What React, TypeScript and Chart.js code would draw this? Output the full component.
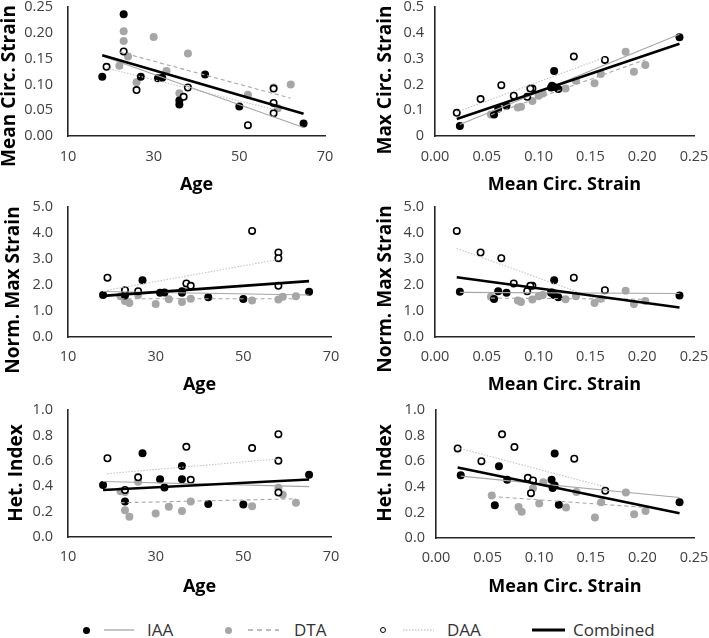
import React, { useEffect, useRef } from 'react';
import { Chart, registerables } from 'chart.js';

Chart.register(...registerables);

// ---------- data ----------
// IAA group
const iaaAge = [18, 23, 27, 31, 32, 36, 36, 42, 50, 65];
const iaaMeanStrain = [0.115, 0.236, 0.115, 0.112, 0.113, 0.061, 0.069, 0.119, 0.057, 0.024];
const iaaMaxStrain = [0.19, 0.383, 0.252, 0.188, 0.195, 0.106, 0.117, 0.182, 0.083, 0.039];
const iaaNormMaxStrain = [1.62, 1.6, 2.18, 1.7, 1.71, 1.76, 1.7, 1.53, 1.46, 1.74];
const iaaHetIndex = [0.41, 0.28, 0.66, 0.455, 0.39, 0.56, 0.455, 0.26, 0.255, 0.49];

// DTA group
const dtaAge = [22, 23, 23, 24, 26, 30, 33, 36, 38, 52, 58, 59, 62];
const dtaMeanStrain = [0.136, 0.184, 0.203, 0.154, 0.104, 0.192, 0.126, 0.083, 0.16, 0.08, 0.094, 0.054, 0.1];
const dtaMaxStrain = [0.214, 0.327, 0.275, 0.204, 0.165, 0.249, 0.184, 0.113, 0.24, 0.11, 0.136, 0.083, 0.156];
const dtaNormMaxStrain = [1.57, 1.78, 1.38, 1.31, 1.62, 1.27, 1.45, 1.35, 1.47, 1.4, 1.44, 1.55, 1.57];
const dtaHetIndex = [0.36, 0.355, 0.21, 0.16, 0.435, 0.185, 0.238, 0.205, 0.28, 0.243, 0.388, 0.333, 0.27];

// DAA group
const daaAge = [19, 23, 26, 37, 38, 52, 58, 58, 58];
const daaMeanStrain = [0.134, 0.164, 0.089, 0.076, 0.094, 0.021, 0.044, 0.064, 0.092];
const daaMaxStrain = [0.308, 0.295, 0.152, 0.156, 0.184, 0.09, 0.143, 0.197, 0.184];
const daaNormMaxStrain = [2.28, 1.8, 1.76, 2.06, 1.97, 4.08, 3.25, 3.03, 1.97];
const daaHetIndex = [0.62, 0.37, 0.47, 0.71, 0.45, 0.7, 0.6, 0.81, 0.35];

// tick labels
const ageTicks = ['10', '30', '50', '70'];
const meanStrainTicks = ['0.00', '0.05', '0.10', '0.15', '0.20', '0.25'];
const maxStrainTicks = ['0', '0.1', '0.2', '0.3', '0.4', '0.5'];
const normStrainTicks = ['0.0', '1.0', '2.0', '3.0', '4.0', '5.0'];
const hetTicks = ['0.0', '0.2', '0.4', '0.6', '0.8', '1.0'];

const legendLabels = ['IAA', 'DTA', 'DAA', 'Combined'];

// ---------- styling ----------
const FONT = '"Open Sans", "DejaVu Sans", sans-serif';
const TICK_COLOR = '#404040';
const AXIS_COLOR = '#262626';
const GRAY = '#a6a6a6';
const LIGHT_GRAY = '#c4c4c4';

function trendEnds(xs: number[], ys: number[]) {
  const n = xs.length;
  const mx = xs.reduce((a, b) => a + b, 0) / n;
  const my = ys.reduce((a, b) => a + b, 0) / n;
  let sxy = 0;
  let sxx = 0;
  for (let i = 0; i < n; i++) {
    sxy += (xs[i] - mx) * (ys[i] - my);
    sxx += (xs[i] - mx) * (xs[i] - mx);
  }
  const b = sxy / sxx;
  const a = my - b * mx;
  const x0 = Math.min(...xs);
  const x1 = Math.max(...xs);
  return [
    { x: x0, y: a + b * x0 },
    { x: x1, y: a + b * x1 },
  ];
}

function pts(xs: number[], ys: number[]) {
  return xs.map((x, i) => ({ x, y: ys[i] }));
}

const yTitlePlugin = {
  id: 'yTitleCustom',
  afterDraw(chart: any, _args: any, opts: any) {
    const { ctx } = chart;
    ctx.save();
    ctx.translate(opts.x, opts.y);
    ctx.rotate(-Math.PI / 2);
    ctx.font = `bold ${opts.size}px ${FONT}`;
    ctx.fillStyle = '#000000';
    ctx.textAlign = 'center';
    ctx.textBaseline = 'middle';
    ctx.fillText(opts.text, 0, 0);
    ctx.restore();
  },
};

type Spec = {
  xs: number[][];
  ys: number[][];
  xMin: number; xMax: number; xStep: number; xLabels: string[];
  yMin: number; yMax: number; yStep: number; yLabels: string[];
  xTitle: string; yTitle: string;
  left: number; top: number; w: number; h: number;
  area: { l: number; r: number; t: number; b: number };
  yPad: number; xPad: number; xTitlePad: number;
  yTitleAt: { x: number; y: number };
};

const panels: Spec[] = [
  {
    xs: [iaaAge, dtaAge, daaAge], ys: [iaaMeanStrain, dtaMeanStrain, daaMeanStrain],
    xMin: 10, xMax: 70, xStep: 20, xLabels: ageTicks,
    yMin: 0, yMax: 0.25, yStep: 0.05, yLabels: meanStrainTicks,
    xTitle: 'Age', yTitle: 'Mean Circ. Strain',
    left: 0, top: 0, w: 354, h: 200,
    area: { l: 68, r: 325, t: 7, b: 136 }, yPad: 15, xPad: 14, xTitlePad: 6,
    yTitleAt: { x: 10, y: 86 },
  },
  {
    xs: [iaaMeanStrain, dtaMeanStrain, daaMeanStrain], ys: [iaaMaxStrain, dtaMaxStrain, daaMaxStrain],
    xMin: 0, xMax: 0.25, xStep: 0.05, xLabels: meanStrainTicks,
    yMin: 0, yMax: 0.5, yStep: 0.1, yLabels: maxStrainTicks,
    xTitle: 'Mean Circ. Strain', yTitle: 'Max Circ. Strain',
    left: 354, top: 0, w: 355, h: 200,
    area: { l: 81, r: 340, t: 7, b: 136 }, yPad: 11, xPad: 14, xTitlePad: 6,
    yTitleAt: { x: 32, y: 80 },
  },
  {
    xs: [iaaAge, dtaAge, daaAge], ys: [iaaNormMaxStrain, dtaNormMaxStrain, daaNormMaxStrain],
    xMin: 10, xMax: 70, xStep: 20, xLabels: ageTicks,
    yMin: 0, yMax: 5, yStep: 1, yLabels: normStrainTicks,
    xTitle: 'Age', yTitle: 'Norm. Max Strain',
    left: 0, top: 200, w: 354, h: 200,
    area: { l: 68, r: 331, t: 7, b: 137 }, yPad: 15, xPad: 13, xTitlePad: 6,
    yTitleAt: { x: 14, y: 90 },
  },
  {
    xs: [iaaMeanStrain, dtaMeanStrain, daaMeanStrain], ys: [iaaNormMaxStrain, dtaNormMaxStrain, daaNormMaxStrain],
    xMin: 0, xMax: 0.25, xStep: 0.05, xLabels: meanStrainTicks,
    yMin: 0, yMax: 5, yStep: 1, yLabels: normStrainTicks,
    xTitle: 'Mean Circ. Strain', yTitle: 'Norm. Max Strain',
    left: 354, top: 200, w: 355, h: 200,
    area: { l: 81, r: 340, t: 7, b: 137 }, yPad: 11, xPad: 13, xTitlePad: 6,
    yTitleAt: { x: 32, y: 89 },
  },
  {
    xs: [iaaAge, dtaAge, daaAge], ys: [iaaHetIndex, dtaHetIndex, daaHetIndex],
    xMin: 10, xMax: 70, xStep: 20, xLabels: ageTicks,
    yMin: 0, yMax: 1, yStep: 0.2, yLabels: hetTicks,
    xTitle: 'Age', yTitle: 'Het. Index',
    left: 0, top: 400, w: 354, h: 200,
    area: { l: 68, r: 331, t: 10, b: 137 }, yPad: 15, xPad: 13, xTitlePad: 4,
    yTitleAt: { x: 17, y: 73 },
  },
  {
    xs: [iaaMeanStrain, dtaMeanStrain, daaMeanStrain], ys: [iaaHetIndex, dtaHetIndex, daaHetIndex],
    xMin: 0, xMax: 0.25, xStep: 0.05, xLabels: meanStrainTicks,
    yMin: 0, yMax: 1, yStep: 0.2, yLabels: hetTicks,
    xTitle: 'Mean Circ. Strain', yTitle: 'Het. Index',
    left: 354, top: 400, w: 355, h: 200,
    area: { l: 82, r: 340, t: 10, b: 138 }, yPad: 11, xPad: 13, xTitlePad: 4,
    yTitleAt: { x: 32, y: 73 },
  },
];

function zeroPad(s: any) {
  s.paddingTop = 0;
  s.paddingBottom = 0;
  s.paddingLeft = 0;
  s.paddingRight = 0;
}

function Panel({ spec }: { spec: Spec }) {
  const ref = useRef<HTMLCanvasElement>(null);
  useEffect(() => {
    if (!ref.current) return;
    const [ix, dx, ax] = spec.xs;
    const [iy, dy, ay] = spec.ys;
    const allX = [...ix, ...dx, ...ax];
    const allY = [...iy, ...dy, ...ay];
    const lineBase = { showLine: true, pointRadius: 0, fill: false, clip: false as any, tension: 0 };
    const datasets: any[] = [
      { ...lineBase, label: legendLabels[3], data: trendEnds(allX, allY), borderColor: '#000000', borderWidth: 2.6 },
      { ...lineBase, label: legendLabels[0], data: trendEnds(ix, iy), borderColor: GRAY, borderWidth: 1.1 },
      { ...lineBase, label: legendLabels[1], data: trendEnds(dx, dy), borderColor: GRAY, borderWidth: 1.1, borderDash: [4, 3] },
      { ...lineBase, label: legendLabels[2], data: trendEnds(ax, ay), borderColor: LIGHT_GRAY, borderWidth: 1.1, borderDash: [1.5, 1.5] },
      { label: legendLabels[2], data: pts(ax, ay), pointRadius: 3.2, pointBorderWidth: 1.6, pointBackgroundColor: '#ffffff', pointBorderColor: '#000000', clip: false },
      { label: legendLabels[0], data: pts(ix, iy), pointRadius: 4, pointBorderWidth: 0, pointBackgroundColor: '#000000', pointBorderColor: '#000000', clip: false },
      { label: legendLabels[1], data: pts(dx, dy), pointRadius: 4, pointBorderWidth: 0, pointBackgroundColor: GRAY, pointBorderColor: GRAY, clip: false },
    ];
    const { area } = spec;
    const chart = new Chart(ref.current, {
      type: 'scatter',
      data: { datasets },
      plugins: [yTitlePlugin as any],
      options: {
        responsive: false,
        animation: false,
        devicePixelRatio: 1,
        events: [],
        layout: {
          autoPadding: false,
          padding: { left: 0, top: area.t, right: spec.w - area.r, bottom: 0 },
        },
        plugins: {
          legend: { display: false },
          tooltip: { enabled: false },
          yTitleCustom: { text: spec.yTitle, x: spec.yTitleAt.x, y: spec.yTitleAt.y, size: 19 },
        } as any,
        scales: {
          x: {
            type: 'linear',
            min: spec.xMin,
            max: spec.xMax,
            grid: { display: false, drawTicks: false },
            border: { display: true, color: AXIS_COLOR, width: 1.6 },
            ticks: {
              stepSize: spec.xStep,
              autoSkip: false,
              maxRotation: 0,
              padding: spec.xPad,
              color: TICK_COLOR,
              font: { family: FONT, size: 14.5, lineHeight: 1 },
              callback: (_v: any, i: number) => spec.xLabels[i],
            },
            title: {
              display: true,
              text: spec.xTitle,
              color: '#000000',
              font: { family: FONT, size: 18, weight: 'bold', lineHeight: 1 },
              padding: { top: 0, bottom: spec.xTitlePad },
            },
            afterFit: (s: any) => { s.height = spec.h - area.b; zeroPad(s); },
          },
          y: {
            type: 'linear',
            min: spec.yMin,
            max: spec.yMax,
            grid: { display: false, drawTicks: false },
            border: { display: true, color: AXIS_COLOR, width: 1.6 },
            ticks: {
              stepSize: spec.yStep,
              autoSkip: false,
              padding: spec.yPad,
              color: TICK_COLOR,
              font: { family: FONT, size: 14.5, lineHeight: 1 },
              callback: (_v: any, i: number) => spec.yLabels[i],
            },
            afterFit: (s: any) => { s.width = area.l; zeroPad(s); },
          },
        },
      } as any,
    });
    return () => chart.destroy();
  }, [spec]);
  return (
    <canvas
      ref={ref}
      width={spec.w}
      height={spec.h}
      style={{ position: 'absolute', left: spec.left, top: spec.top, width: spec.w, height: spec.h }}
    />
  );
}

const legendText: React.CSSProperties = {
  position: 'absolute',
  top: 620,
  height: 20,
  lineHeight: '20px',
  fontFamily: FONT,
  fontSize: 17,
  color: '#333333',
  whiteSpace: 'nowrap',
};

function Legend() {
  return (
    <>
      <div style={{ position: 'absolute', left: 82.5, top: 626.5, width: 7, height: 7, borderRadius: '50%', background: '#000' }} />
      <svg style={{ position: 'absolute', left: 104, top: 625 }} width={30} height={10}>
        <line x1={0} y1={5} x2={30} y2={5} stroke={GRAY} strokeWidth={1.3} />
      </svg>
      <div style={{ ...legendText, left: 147 }}>{legendLabels[0]}</div>

      <div style={{ position: 'absolute', left: 224.5, top: 626.5, width: 7, height: 7, borderRadius: '50%', background: GRAY }} />
      <svg style={{ position: 'absolute', left: 248, top: 625 }} width={31} height={10}>
        <line x1={0} y1={5} x2={31} y2={5} stroke={GRAY} strokeWidth={1.3} strokeDasharray="5 4" />
      </svg>
      <div style={{ ...legendText, left: 294 }}>{legendLabels[1]}</div>

      <div style={{ position: 'absolute', left: 379.5, top: 626.5, width: 4, height: 4, borderRadius: '50%', border: '1.6px solid #000', background: '#fff' }} />
      <svg style={{ position: 'absolute', left: 403, top: 625 }} width={31} height={10}>
        <line x1={0} y1={5} x2={31} y2={5} stroke="#b0b0b0" strokeWidth={1.2} strokeDasharray="1.5 1.5" />
      </svg>
      <div style={{ ...legendText, left: 447 }}>{legendLabels[2]}</div>

      <svg style={{ position: 'absolute', left: 532, top: 625 }} width={33} height={10}>
        <line x1={0} y1={5} x2={33} y2={5} stroke="#000" strokeWidth={3} />
      </svg>
      <div style={{ ...legendText, left: 573 }}>{legendLabels[3]}</div>
    </>
  );
}

export default function App() {
  return (
    <div style={{ position: 'absolute', left: 0, top: 0, width: 709, height: 638, background: '#ffffff', overflow: 'hidden' }}>
      {panels.map((p, i) => (
        <Panel key={i} spec={p} />
      ))}
      <Legend />
    </div>
  );
}
